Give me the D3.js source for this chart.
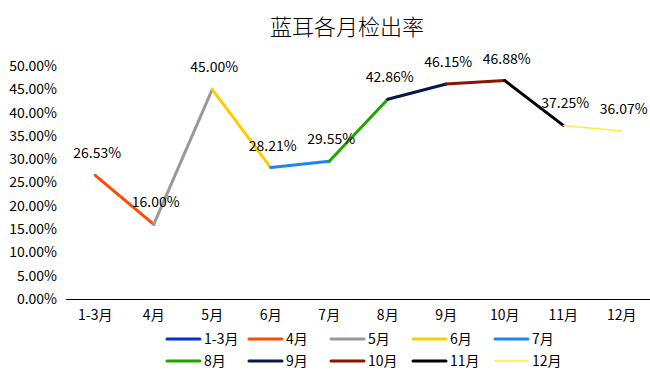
<!DOCTYPE html>
<html><head><meta charset="utf-8">
<script src="https://cdn.jsdelivr.net/npm/d3@7"></script>
<style>body{margin:0;background:#fff;}svg{display:block;}</style>
</head><body>
<script>
const categories = ["1-3月","4月","5月","6月","7月","8月","9月","10月","11月","12月"];
const values = [26.53,16.00,45.00,28.21,29.55,42.86,46.15,46.88,37.25,36.07];
const seriesNames = ["1-3月","4月","5月","6月","7月","8月","9月","10月","11月","12月"];
const seriesColors = ["#0033cc","#ff4a00","#999999","#ffcc00","#1a86f5","#22a300","#0a1848","#8b1500","#000000","#ffe940"];
const seriesWidths = [3,3,3,3,3,3,3,3,3,1.5];
const yTicks = [0,5,10,15,20,25,30,35,40,45,50];

const W=650,H=380;
const font = "'Noto Sans CJK SC','Microsoft YaHei',sans-serif";
const svg = d3.select("body").append("svg").attr("width",W).attr("height",H);

svg.append("text").attr("x",347).attr("y",35).attr("text-anchor","middle")
  .attr("font-family",font).attr("font-size",22).attr("font-weight",300).attr("fill","#000").text("蓝耳各月检出率");

const x = d3.scaleBand().domain(categories).range([66,651]);
const y = d3.scaleLinear().domain([0,50]).range([299,66]);
const cx = c => x(c)+x.bandwidth()/2;

// y axis labels
const ya = svg.append("g").attr("transform","translate(57,0)")
  .call(d3.axisLeft(y).tickValues(yTicks).tickSize(0).tickPadding(0).tickFormat(d=>d.toFixed(2)+"%"));
ya.select(".domain").remove();
ya.selectAll("text").attr("font-family",font).attr("font-size",14).attr("fill","#000");

// x axis
const xa = svg.append("g").attr("transform","translate(0,299)")
  .call(d3.axisBottom(x).tickSize(0).tickPadding(11));
xa.select(".domain").attr("stroke","#000").attr("stroke-width",1).attr("d","M66,0.5H650");
xa.selectAll("text").attr("font-family",font).attr("font-size",14).attr("fill","#000");

// segments
const line = d3.line().x(d=>cx(d.c)).y(d=>y(d.v));
seriesNames.forEach((s,i)=>{
  if(i===0) return;
  const pts=[{c:categories[i-1],v:values[i-1]},{c:categories[i],v:values[i]}];
  svg.append("path").attr("d",line(pts)).attr("fill","none")
    .attr("stroke",seriesColors[i]).attr("stroke-width",seriesWidths[i]).attr("stroke-linecap","round");
});

// data labels
svg.append("g").selectAll("text").data(values).join("text")
  .attr("x",(d,i)=>cx(categories[i])+2).attr("y",d=>y(d)-17)
  .attr("text-anchor","middle").attr("font-family",font).attr("font-size",14).attr("fill","#000")
  .text(d=>d.toFixed(2)+"%");

// legend
const lg = svg.append("g");
seriesNames.forEach((s,i)=>{
  const col=i%5,row=Math.floor(i/5);
  const lx=167+col*82, ly=339+row*22;
  lg.append("line").attr("x1",lx).attr("x2",lx+33).attr("y1",ly).attr("y2",ly)
    .attr("stroke",seriesColors[i]).attr("stroke-width",seriesWidths[i]).attr("stroke-linecap","round");
  lg.append("text").attr("x",lx+37).attr("y",ly).attr("dy","0.35em")
    .attr("font-family",font).attr("font-size",14).attr("fill","#000").text(s);
});
</script>
</body></html>
